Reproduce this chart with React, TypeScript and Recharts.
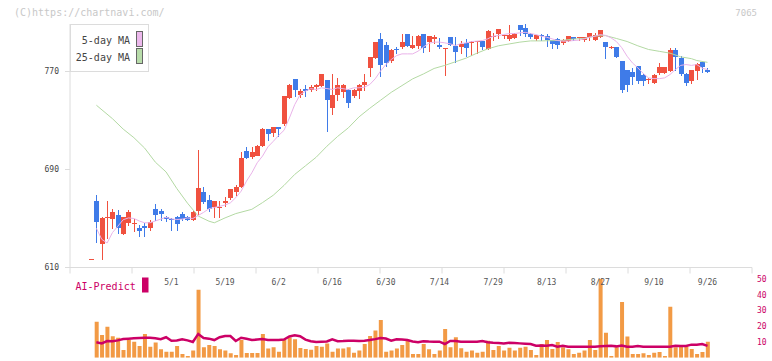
import React from 'react';
import { ComposedChart, Bar, Line, XAxis, YAxis } from 'recharts';

// ---- data (index 0 = 4/9 ... index 115 = 9/26) ----
const opens = [
  617.2, 664, 629, 650, 649.5, 652.5, 637.5, 647, 645.5, 642.5,
  643.5, 643, 658, 655.8, 651.6, 650, 651.6, 654, 651.6, 649.2,
  655.5, 672, 665.5, 659, 658.5, 662.8, 666.3, 672, 676.4, 705.5,
  700, 701.7, 709, 722.7, 719.4, 724.3, 726.7, 749, 763.5, 751.5,
  755.9, 755.3, 757, 758, 762.7, 740.3, 750.7, 754, 755.3, 750.4,
  754.5, 758.6, 772.4, 781.2, 796.5, 792, 778.4, 788, 789.9, 800.7,
  789.6, 791.2, 800.7, 793.9, 796.7, 792, 789, 798.3, 791.2, 790.7,
  792.9, 793.5, 794.2, 795.2, 788.8, 798.6, 801, 799.5, 796.5, 797.2,
  807.7, 805.6, 801, 796.4, 800, 798.8, 795.6, 796.7, 793.4, 795.4,
  798.1, 797.7, 795.8, 798.6, 796.1, 798.8, 794.2, 790, 789.9, 779,
  771.6, 769.4, 774.3, 767.5, 763.6, 760.7, 768.4, 768.9, 771, 787.9,
  781.3, 768.2, 762.9, 771, 777.9, 771.6,
];
const highs = [
  617.3, 669, 651, 664.5, 658, 657, 651.5, 657, 650, 645,
  646, 649, 661.5, 657.5, 652.4, 650.5, 652, 655.5, 652, 656,
  706, 676, 669, 664, 664, 667.4, 674, 677, 704.4, 708.5,
  708.5, 709.8, 724, 723, 724.5, 724.5, 750, 759.5, 764, 756,
  759.4, 758.6, 760, 767.6, 763, 767.6, 765, 759.5, 755.5, 755.5,
  759.5, 767.6, 781.7, 794.5, 801.6, 794.2, 788.5, 789.9, 801, 801,
  799.4, 799.5, 801, 799, 800.2, 797, 789.5, 798.5, 798.3, 794.8,
  796.5, 795.3, 795.3, 795.3, 803.5, 801.6, 805.1, 800, 808, 801.3,
  808, 810, 801.5, 799.8, 801, 801, 796, 797, 796.7, 799.4,
  798.5, 798.2, 798.3, 801.6, 801.6, 804.3, 794.5, 790.5, 790, 779,
  771.6, 773, 774.5, 767.6, 764.8, 767.6, 777.3, 774, 789.5, 789.3,
  782.5, 768.5, 771.6, 777.3, 778, 773,
];
const lows = [
  617.1, 631, 617.3, 634, 642, 638, 637, 645, 640, 635.5,
  636, 640.5, 648.5, 649, 648, 641, 641, 649, 649, 649,
  653.5, 663, 656, 651, 651, 660, 666, 669.5, 676, 699,
  699.8, 701.5, 709, 714, 717, 717.7, 726.5, 748.5, 750.4, 749.3,
  750, 754, 755.3, 758, 721.3, 735.7, 747, 749.3, 741.2, 749,
  748.5, 755.3, 766.2, 781, 766.2, 774.4, 777.5, 785.2, 789.6, 791,
  789.6, 789.3, 786, 786.6, 793.4, 789.3, 767, 791.5, 778, 785.2,
  783, 783.5, 785.2, 788, 788.5, 795.5, 797.5, 797.5, 796, 797,
  800.2, 799, 797.5, 796, 795.6, 791, 788.8, 788.8, 792.3, 794.8,
  795.6, 795.4, 795, 795.6, 796, 798.5, 781.1, 789.3, 781.7, 753.4,
  753.9, 760, 761, 759.4, 760.7, 760.5, 768, 768.5, 770.5, 771,
  767.5, 758.8, 760.7, 763.6, 769.4, 769.5,
];
const closes = [
  617.2, 647, 650.5, 651, 655.5, 642, 651, 655.7, 646, 640,
  641.5, 647.5, 653.5, 653.5, 649.7, 649, 646.2, 650.3, 649.5, 655.7,
  674.5, 663.5, 658.5, 664, 659, 664.4, 673.7, 676, 699.8, 700,
  704.4, 709.6, 722.7, 719, 724.3, 722.7, 749.9, 759.4, 754.8, 754.5,
  754.5, 757.5, 758.8, 767.6, 746.6, 751.2, 758.8, 759.4, 745, 755.3,
  759.4, 761.3, 781.7, 794.5, 775.5, 777.3, 787.5, 787.2, 794.3, 791.2,
  792, 799.4, 789.3, 798.8, 798.3, 790.7, 789.3, 792, 786, 792.8,
  789, 794.2, 794.8, 790, 803.4, 799, 805.1, 799.8, 800, 800.6,
  803.6, 801, 798.8, 799.5, 799.3, 795.6, 792.2, 792.2, 796.1, 799.4,
  796.1, 798, 798.3, 801.6, 800.2, 804.3, 789.9, 790.2, 781.7, 755.3,
  759.4, 765, 761.8, 763, 764, 767.5, 773.3, 773.8, 787.9, 782,
  768.2, 760.5, 771.6, 776.5, 773.7, 769.7,
];
const volumes = [
  0, 22.9, 14.4, 19.7, 13.6, 12.7, 4.9, 11.2, 10.2, 7.4, 15.1,
  7, 9.6, 5.3, 3.8, 3.8, 7.4, 2.3, 1.1, 4.5, 43.1,
  6.6, 8.1, 7.4, 5.3, 4.5, 2.8, 1.7, 11.2, 3, 3,
  3, 15.1, 5.9, 6.6, 3.8, 11.2, 12.9, 11.7, 6.1, 5.5,
  5.1, 7.4, 7, 9.1, 3.8, 5.9, 5.9, 6.6, 3.2, 4.5,
  8.7, 13.8, 17.2, 24, 3.8, 4.5, 5.9, 8.1, 11.2, 2.3,
  2.3, 8.7, 5.3, 2.3, 4.5, 18.3, 6.6, 13, 6, 3.8,
  4.5, 3.2, 3.8, 10.8, 4.9, 7.4, 4.5, 6.4, 4.5, 6.4,
  7, 4.9, 1.7, 8.7, 11.2, 5.5, 10, 6.6, 5.3, 2.3,
  3.2, 4.5, 11.2, 4.9, 50, 15.9, 1.1, 6.6, 35.4, 13.4,
  2.3, 2.3, 2.8, 1.7, 3.2, 3.6, 1.1, 32.3, 6.6, 8.1,
  7, 5.5, 2.3, 3.6, 10.2,
];
const aiPredict = [
  null, 9.8, 9.1, 10.6, 10.5, 11, 11.9, 12.1, 12.3, 12.5, 12.7,
  12.6, 12.4, 11.8, 13, 10.8, 11, 11.7, 11, 10, 15.1,
  12.5, 12.1, 11.2, 13, 13.8, 13.8, 10.6, 12.7, 12, 11.2,
  11.5, 11.8, 11.2, 11.2, 11.2, 11.5, 13.5, 14.2, 13.6, 11.5,
  10.5, 10, 10.2, 10.3, 11.7, 10.5, 10.6, 10.8, 10.7, 10.6,
  10.8, 11.2, 11.8, 12.5, 12.2, 10.8, 11.7, 11.5, 11.2, 10.3,
  9.8, 10.5, 10.3, 10.2, 10.2, 8.7, 10.6, 10.6, 10.2, 10.2,
  10.2, 10.2, 10.6, 9.8, 9.5, 9.3, 9.1, 9.5, 9.3, 9.1,
  8.9, 8.7, 7.6, 7.8, 7.6, 8, 7, 7.6, 7, 7,
  7, 7, 7, 7, 7.2, 7.4, 7.6, 7.2, 7.8, 7,
  7, 7.4, 7, 7, 7, 7, 7, 7, 7.6, 7.4,
  7.4, 8.3, 8.3, 8.7, 7.5,
];
const ma5 = [
  null, 642, 633, 630, 638.5, 643.7, 649, 650.5, 650, 648, 646.5,
  646.5, 648, 649.5, 651, 649.7, 649.2, 649.5, 650.5, 650, 652.5,
  655, 658, 659, 660, 661, 662.8, 667, 672.3, 680.5, 687.3,
  695.5, 701, 708.5, 713, 717.8, 722, 732, 743, 751, 754,
  756, 755.3, 756.7, 756.1, 755.3, 756.7, 756, 755.3, 756.7, 756.7,
  757.2, 759.4, 764, 770.3, 775.7, 779.8, 783, 784.4, 784.4, 784.4,
  786.6, 790, 793, 794, 794, 793.4, 792.6, 791.2, 792.9, 793.4,
  794.5, 794.8, 795.3, 796.7, 798.8, 799.4, 800.2, 801, 801, 801.6,
  802, 801, 800.2, 798.8, 798, 796.7, 795.3, 794.8, 794.8, 795.3,
  795.6, 796.7, 798, 798.8, 800.2, 799.5, 797.5, 794.5, 789.5, 782.5,
  777, 773, 768.5, 764.8, 764.2, 764.2, 764.8, 767.5, 771.6, 775,
  775.7, 775, 775.7, 772.7, 771.6,
];
const ma25 = [
  null, 742.5, null, null, 731.5, null, 723, null, 716, null,
  707.5, null, 696, null, 688, null, 674.5, null, 662.5, null,
  652, null, 647.8, 646.5, null, 650.5, null, 654, null, null,
  657.5, null, 663, null, 669, null, 677, null, 686, null,
  693, null, 700, null, 709, null, 717, null, 724, null,
  733, null, 740, null, 746.5, null, 753, null, 758.5, null,
  764, null, 768, null, 772.5, null, 775, null, 778, null,
  781, null, 785, null, 788.5, null, 791, null, 792.5, null,
  794, null, 795, null, 795, null, 795.2, null, 795.5, null,
  796.5, null, 797, null, 799, null, 799.3, null, 797, null,
  794.5, null, 791, null, 788, null, 786.5, null, 785, null,
  782, null, 780.5, 779, null, 777.5,
];
const labelIdx = [15, 25, 35, 45, 55, 65, 75, 85, 95, 105, 115];
const labelText = ['5/1', '5/19', '6/2', '6/16', '6/30', '7/14', '7/29', '8/13', '8/27', '9/10', '9/26'];
const priceTicks = [610, 690, 770];
const volTicks = [0, 10, 20, 30, 40, 50];

const X_DOMAIN: [number, number] = [-3.92, 123.3];
// axis decoration: 11 equal divisions of the time axis
const GRID_DIVISIONS = 11;
const gridTicks = Array.from({ length: GRID_DIVISIONS + 1 }, (_, k) =>
  X_DOMAIN[0] + (k * (X_DOMAIN[1] - X_DOMAIN[0])) / GRID_DIVISIONS
);

const rows = opens.map((o, i) => ({
  i,
  o,
  h: highs[i],
  l: lows[i],
  c: closes[i],
  v: volumes[i],
  ai: aiPredict[i],
  ma5: ma5[i],
  ma25: ma25[i],
}));

const FONT = '"DejaVu Sans Mono", monospace';
const UP = '#f0513f';
const DOWN = '#3f7be8';
const AXIS = '#dcdcdc';

function Candle(props: any) {
  const { x, y, width, height, payload } = props;
  if (x == null || y == null || !payload) return null;
  const { o, h, l, c } = payload;
  const color = c >= o ? UP : DOWN;
  const span = h - l;
  const k = span > 0 ? height / span : 0;
  const yO = y + (h - o) * k;
  const yC = y + (h - c) * k;
  const top = Math.round(Math.min(yO, yC));
  const bh = Math.max(Math.round(Math.abs(yO - yC)), 1);
  const cx = Math.round(x + width / 2) + 0.5;
  return (
    <g>
      <line x1={cx} x2={cx} y1={Math.round(y)} y2={Math.round(y + height) + 1} stroke={color} strokeWidth={1} />
      <rect x={cx - width / 2} y={top} width={width} height={bh} fill={color} />
    </g>
  );
}

function LabelTick(props: any) {
  const { x, y, payload } = props;
  const k = labelIdx.indexOf(payload.value);
  return (
    <text x={x} y={y + 17} textAnchor="middle" fontSize={8} fontFamily={FONT} fill="#555">
      {k >= 0 ? labelText[k] : ''}
    </text>
  );
}

export default function App() {
  return (
    <div style={{ position: 'fixed', left: 0, top: 0, width: 772, height: 361, background: '#fff', overflow: 'hidden' }}>
      <div style={{ position: 'absolute', left: 0, top: 0 }}>
        <ComposedChart width={772} height={361} data={rows} margin={{ top: 24, right: 20, bottom: 92.5, left: 10 }}>
          <XAxis
            xAxisId="x"
            type="number"
            dataKey="i"
            domain={X_DOMAIN}
            ticks={gridTicks}
            interval={0}
            height={1}
            tickSize={6}
            tickMargin={0}
            tickFormatter={() => ''}
            stroke={AXIS}
            allowDataOverflow
          />
          <YAxis
            yAxisId="p"
            domain={[610, 808.8]}
            ticks={priceTicks}
            width={60}
            tickSize={5}
            tickMargin={6}
            stroke={AXIS}
            tick={{ fill: '#444', fontSize: 8, fontFamily: FONT }}
            allowDataOverflow
          />
          <Line xAxisId="x" yAxisId="p" dataKey="ma25" stroke="#b3d9a3" strokeWidth={1} dot={false} connectNulls isAnimationActive={false} />
          <Line xAxisId="x" yAxisId="p" dataKey="ma5" stroke="#e9b3e9" strokeWidth={1} dot={false} connectNulls isAnimationActive={false} />
          <Bar xAxisId="x" yAxisId="p" dataKey={(d: any) => [d.l, d.h]} barSize={5} shape={Candle} isAnimationActive={false} />
        </ComposedChart>
      </div>
      <div style={{ position: 'absolute', left: 0, top: 0 }}>
        <ComposedChart width={772} height={361} data={rows} margin={{ top: 266.5, right: 0, bottom: 3.3, left: 70 }}>
          <XAxis
            xAxisId="x"
            type="number"
            dataKey="i"
            orientation="top"
            domain={X_DOMAIN}
            ticks={labelIdx}
            interval={0}
            height={1}
            axisLine={false}
            tickLine={false}
            tickSize={0}
            tickMargin={0}
            tick={(p: any) => <LabelTick {...p} />}
            allowDataOverflow
          />
          <YAxis
            yAxisId="v"
            orientation="right"
            domain={[0, 57.3]}
            ticks={volTicks}
            width={20}
            tickSize={3}
            tickMargin={2}
            axisLine={false}
            tickLine={false}
            tick={{ fill: '#cc0066', fontSize: 8, fontFamily: FONT }}
            allowDataOverflow
          />
          <Bar xAxisId="x" yAxisId="v" dataKey="v" fill="#f29a45" barSize={4} isAnimationActive={false} />
          <Line xAxisId="x" yAxisId="v" dataKey="ai" stroke="#cc0066" strokeWidth={2.5} dot={false} isAnimationActive={false} />
        </ComposedChart>
      </div>
      <svg width={772} height={361} style={{ position: 'absolute', left: 0, top: 0, pointerEvents: 'none' }}>
        <text x={14} y={15.5} fontSize={10} fontFamily={FONT} fill="#c8c8c8">(C)https://chartnavi.com/</text>
        <text x={757} y={16} fontSize={9} fontFamily={FONT} fill="#c8c8c8" textAnchor="end">7065</text>
        <rect x={70.5} y={24.5} width={78} height={47} fill="#fff" stroke={AXIS} />
        <text x={130} y={44} fontSize={10} fontFamily={FONT} fill="#444" textAnchor="end">5-day MA</text>
        <rect x={136.5} y={31.5} width={6} height={15} fill="#ecb8ec" stroke="#666" />
        <text x={130} y={60.5} fontSize={10} fontFamily={FONT} fill="#444" textAnchor="end">25-day MA</text>
        <rect x={136.5} y={48.5} width={6} height={15} fill="#b8dcaa" stroke="#666" />
        <text x={75.5} y={289.5} fontSize={10} fontFamily={FONT} fill="#cc0066">AI-Predict</text>
        <rect x={142} y={277.5} width={6.5} height={15} fill="#cc0066" />
      </svg>
    </div>
  );
}
